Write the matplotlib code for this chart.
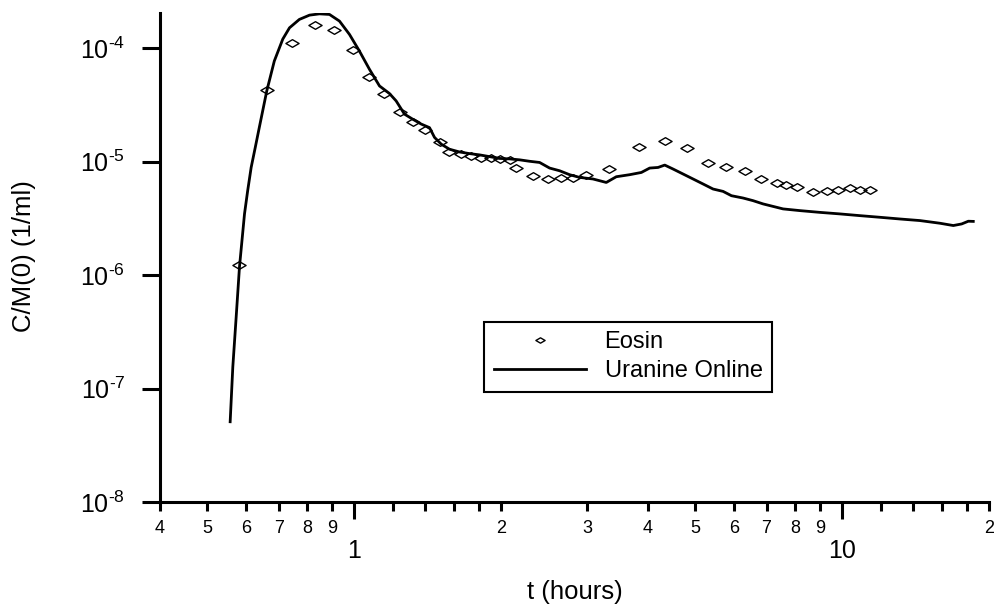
import numpy as np
import matplotlib
matplotlib.use('Agg')
import matplotlib.pyplot as plt
from matplotlib.path import Path
from matplotlib.ticker import FixedLocator, FuncFormatter, NullLocator

plt.rcParams['font.family'] = ['Liberation Sans', 'DejaVu Sans']
plt.rcParams['mathtext.fontset'] = 'custom'
plt.rcParams['mathtext.rm'] = 'Liberation Sans'
plt.rcParams['mathtext.default'] = 'regular'

# Eosin samples (hours, 1/ml)
eosin_t = [0.582, 0.663, 0.744, 0.831, 0.911, 0.993, 1.072, 1.151, 1.239, 1.320,
           1.400, 1.496, 1.568, 1.657, 1.738, 1.822, 1.910, 1.986, 2.083, 2.149,
           2.324, 2.495, 2.658, 2.808, 2.991, 3.328, 3.834, 4.329, 4.81, 5.31,
           5.79, 6.32, 6.83, 7.34, 7.68, 8.08, 8.72, 9.29, 9.81, 10.37, 10.87, 11.40]
eosin_c = [1.24e-6, 4.30e-5, 1.107e-4, 1.594e-4, 1.449e-4, 9.67e-5, 5.56e-5, 3.93e-5,
           2.72e-5, 2.26e-5, 1.91e-5, 1.48e-5, 1.23e-5, 1.17e-5, 1.13e-5, 1.09e-5,
           1.07e-5, 1.057e-5, 1.04e-5, 8.73e-6, 7.53e-6, 7.05e-6, 7.13e-6, 7.13e-6,
           7.69e-6, 8.63e-6, 1.336e-5, 1.53e-5, 1.32e-5, 9.74e-6, 9.04e-6, 8.22e-6,
           7.05e-6, 6.50e-6, 6.24e-6, 5.94e-6, 5.37e-6, 5.56e-6, 5.67e-6, 5.87e-6,
           5.67e-6, 5.67e-6]

# Uranine online measurement
uranine_t = [0.557, 0.564, 0.573, 0.582, 0.596, 0.605, 0.615, 0.627, 0.639, 0.662,
             0.686, 0.714, 0.737, 0.772, 0.810, 0.849, 0.890, 0.933, 0.978, 1.025,
             1.075, 1.127, 1.181, 1.219, 1.268, 1.319, 1.372, 1.427, 1.461, 1.508,
             1.568, 1.644, 1.724, 1.807, 1.894, 1.986, 2.082, 2.183, 2.288, 2.399,
             2.515, 2.637, 2.764, 2.898, 3.086, 3.286, 3.445, 3.668, 3.878, 4.033,
             4.195, 4.330, 4.503, 4.721, 4.949, 5.188, 5.439, 5.702, 5.932, 6.266,
             6.569, 6.887, 7.219, 7.568, 8.19, 9.00, 9.89, 10.87, 11.95, 13.13,
             14.44, 15.87, 16.90, 17.58, 18.14, 18.57]
uranine_c = [5.10e-8, 1.55e-7, 4.27e-7, 1.18e-6, 3.47e-6, 5.56e-6, 8.91e-6, 1.336e-5,
             2.00e-5, 4.21e-5, 7.73e-5, 1.207e-4, 1.518e-4, 1.799e-4, 1.963e-4,
             2.015e-4, 1.991e-4, 1.739e-4, 1.328e-4, 9.47e-5, 6.53e-5, 4.66e-5,
             4.00e-5, 3.44e-5, 2.63e-5, 2.37e-5, 2.15e-5, 2.00e-5, 1.64e-5, 1.43e-5,
             1.29e-5, 1.22e-5, 1.18e-5, 1.15e-5, 1.11e-5, 1.07e-5, 1.06e-5, 1.04e-5,
             1.01e-5, 9.86e-6, 8.80e-6, 8.33e-6, 7.69e-6, 7.28e-6, 7.05e-6, 6.57e-6,
             7.38e-6, 7.69e-6, 8.05e-6, 8.80e-6, 8.91e-6, 9.35e-6, 8.63e-6, 7.80e-6,
             7.05e-6, 6.37e-6, 5.75e-6, 5.48e-6, 5.02e-6, 4.79e-6, 4.54e-6, 4.25e-6,
             4.04e-6, 3.84e-6, 3.71e-6, 3.58e-6, 3.47e-6, 3.35e-6, 3.24e-6, 3.13e-6,
             3.03e-6, 2.87e-6, 2.74e-6, 2.83e-6, 2.99e-6, 2.98e-6]

x_major = [1, 10]
x_minor = [0.4, 0.5, 0.6, 0.7, 0.8, 0.9, 1.2, 1.4, 1.6, 1.8,
           2, 3, 4, 5, 6, 7, 8, 9, 12, 14, 16, 18, 20]
y_ticks = [1e-8, 1e-7, 1e-6, 1e-5, 1e-4]

# flat diamond marker
diamond = Path([(-1, 0), (0, 0.58), (1, 0), (0, -0.58), (-1, 0)],
               [Path.MOVETO, Path.LINETO, Path.LINETO, Path.LINETO, Path.CLOSEPOLY])

fig = plt.figure(figsize=(9.94, 6.08), dpi=100)
ax = fig.add_axes([160 / 994, 1 - 502 / 608, 829 / 994, 489 / 608])

ax.plot(eosin_t, eosin_c, linestyle='none', marker=diamond, markersize=9.5,
        markerfacecolor='none', markeredgecolor='black', markeredgewidth=1.0,
        label='Eosin')
ax.plot(uranine_t, uranine_c, color='black', linewidth=2.0, label='Uranine Online')

ax.set_xscale('log')
ax.set_yscale('log')
ax.set_xlim(0.4, 20)
ax.set_ylim(1e-8, 2.05e-4)

for s in ['top', 'right']:
    ax.spines[s].set_visible(False)
for s in ['left', 'bottom']:
    ax.spines[s].set_linewidth(2.2)

ax.xaxis.set_major_locator(FixedLocator(x_major))
ax.xaxis.set_minor_locator(FixedLocator(x_minor))
ax.xaxis.set_major_formatter(FuncFormatter(lambda v, p: '%g' % v))


def minor_label(v, p):
    lead = v / 10 ** np.floor(np.log10(v) + 1e-9)
    if abs(lead - round(lead)) < 1e-6:
        return '%d' % round(lead)
    return ''


ax.xaxis.set_minor_formatter(FuncFormatter(minor_label))
ax.yaxis.set_major_locator(FixedLocator(y_ticks))
ax.yaxis.set_minor_locator(NullLocator())
ax.yaxis.set_major_formatter(FuncFormatter(
    lambda v, p: r'$\mathregular{10^{\text{-}%d}}$' % abs(round(np.log10(v)))))

ax.tick_params(axis='x', which='major', length=12, width=2.2, labelsize=18, pad=15)
ax.tick_params(axis='x', which='minor', length=6.5, width=2.2, labelsize=13, pad=6.5)
ax.tick_params(axis='y', which='major', length=13, width=2.2, labelsize=18, pad=12)

fig.text(24 / 994, 1 - 256 / 608, 'C/M(0) (1/ml)', rotation=90,
         ha='center', va='center', fontsize=18.5)
fig.text(575 / 994, 1 - 592 / 608, 't (hours)', ha='center', va='center', fontsize=18.5)

leg = ax.legend(loc='upper left', bbox_to_anchor=(0.391, 0.369), fontsize=17,
                frameon=True, fancybox=False, edgecolor='black', framealpha=1,
                handlelength=3.9, handletextpad=0.8, markerscale=0.7,
                borderpad=0.4, labelspacing=0.3, borderaxespad=0)
leg.get_frame().set_linewidth(1.5)

fig.savefig('out.png', dpi=100)
